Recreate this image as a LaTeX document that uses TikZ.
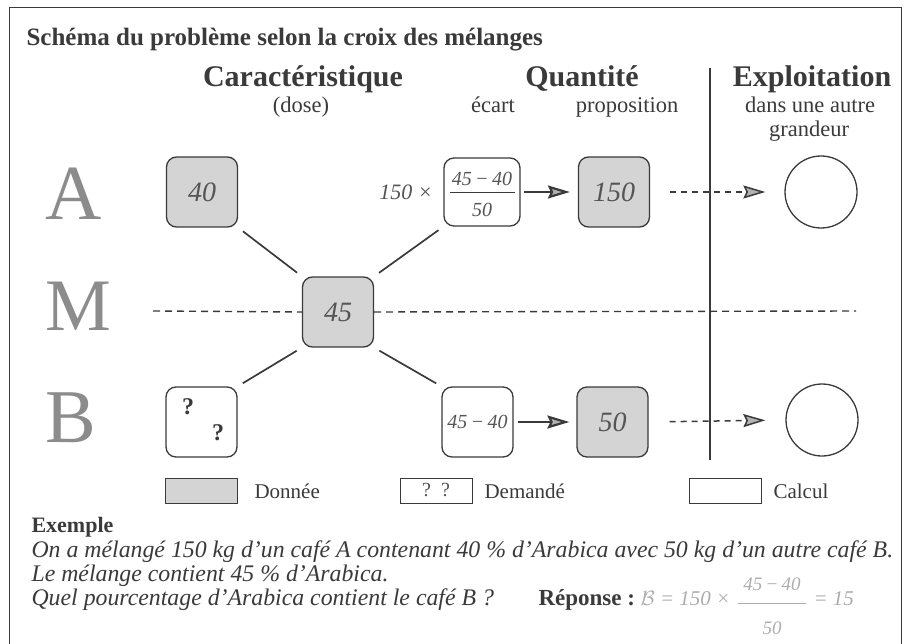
\documentclass[tikz,border=0pt]{standalone}
\usepackage{fontspec}
\setmainfont{Liberation Serif}
\usetikzlibrary{arrows.meta}
\definecolor{boxfill}{HTML}{D4D4D4}
\definecolor{ink}{HTML}{3A3A3A}
\definecolor{numink}{HTML}{555555}
\definecolor{letterg}{HTML}{8C8C8C}
\definecolor{faint}{HTML}{ADADAD}
\newcommand{\fsz}[1]{\fontsize{#1}{#1}\selectfont}
\begin{document}
\begin{tikzpicture}[x=1pt,y=-1pt,
  rbox/.style={draw=ink, line width=1.3pt, rounded corners=10pt, minimum width=71pt, minimum height=70pt, inner sep=0pt},
  gbox/.style={rbox, fill=boxfill},
  wbox/.style={rbox, fill=white},
  num/.style={font=\fsz{28}\itshape, text=numink},
  small/.style={font=\fsz{20}\itshape, text=numink},
  link/.style={draw=ink, line width=1.7pt, shorten >=6pt, shorten <=6pt},
  mline/.style={draw=ink, line width=1.4pt, dash pattern=on 7pt off 5pt},
  sarrow/.style={draw=ink, line width=2.2pt, -{Stealth[length=22pt,width=13pt,inset=3pt,fill=gray!60]}},
  darrow/.style={draw=ink, line width=1.5pt, dash pattern=on 6pt off 5pt, -{Stealth[length=22pt,width=13pt,inset=3pt,fill=gray!60]}},
  lbox/.style={draw=ink, line width=0.8pt, minimum width=72pt, minimum height=25pt, inner sep=0pt},
  ltext/.style={anchor=west, font=\fsz{21}, text=ink},
  head/.style={anchor=base, font=\fsz{30}\bfseries, text=ink},
  sub/.style={anchor=base, font=\fsz{22.5}, text=ink},
  rowl/.style={anchor=base west, text=letterg},
  circ/.style={draw=ink, line width=1.3pt, circle, minimum size=72pt, inner sep=0pt}
]
\useasboundingbox (0,0) rectangle (904,644);
% frame
\draw[ink, line width=1pt] (9,644) -- (9,8) -- (901,8) -- (901,644);

% title and headers
\node[anchor=base west, font=\fsz{25}\bfseries, text=ink] (title) at (23,46) {Schéma du problème selon la croix des mélanges};
\node[head] (hcar) at (303,87) {Caractéristique};
\node[head] (hqua) at (582,87) {Quantité};
\node[head] (hexp) at (812,87) {Exploitation};
\node[sub] (sdose) at (301,113) {(dose)};
\node[sub] (secart) at (493,113) {écart};
\node[sub] (sprop) at (627,113) {proposition};
\node[sub] (sdans) at (810,113) {dans une autre};
\node[sub] (sgrand) at (809,137) {grandeur};

% vertical separator
\coordinate (vtop) at (710,68);
\coordinate (vbot) at (710,460);
\draw[ink, line width=1.6pt] (vtop) -- (vbot);

% row letters
\node[rowl, font=\fsz{78}] (rA) at (42,220) {A};
\node[rowl, font=\fsz{74}] (rM) at (42,330) {M};
\node[rowl, font=\fsz{76}] (rB) at (42,442) {B};

% boxes
\node[gbox, num] (b40) at (202,192) {40};
\node[gbox, num] (b45) at (338,312) {45};
\node[wbox] (bq) at (201.5,422) {};
\node[font=\fsz{24}\bfseries, text=ink] (q1) at (188,407) {?};
\node[font=\fsz{24}\bfseries, text=ink] (q2) at (218,433) {?};
\node[wbox, minimum width=76pt, minimum height=68pt] (bfrac) at (482,192) {};
\node[small] (fnum) at (482,179) {45\,−\,40};
\node[small] (fden) at (482,210) {50};
\draw[ink, line width=1pt] ([xshift=-32pt,yshift=-1pt]bfrac.center) -- ([xshift=33pt,yshift=-1pt]bfrac.center);
\node[anchor=east, font=\fsz{22}\itshape, text=numink] (pre) at ([xshift=-7pt]bfrac.west) {150 ×};
\node[gbox, num] (b150) at (614,192) {150};
\node[wbox, small] (bdiff) at (477.5,422) {45\,−\,40};
\node[gbox, num] (b50) at (612.5,422) {50};
\node[circ] (cA) at (821,192) {};
\node[circ] (cB) at (822,420) {};

% links of the cross
\draw[link] (b40.south east) -- (b45.north west);
\draw[link] (b45.north east) -- (bfrac.south west);
\draw[link] (b45.south west) -- (bq.north east);
\draw[link] (b45.south east) -- (bdiff.north west);

% M dashed line
\coordinate (mleft) at (153,311);
\coordinate (mright) at (856,311);
\draw[mline] (mleft) -- (b45.west);
\draw[mline] (b45.east) -- (mright);

% arrows
\draw[sarrow, shorten <=3pt, shorten >=8pt] (bfrac.east) -- (b150.west);
\draw[sarrow, shorten <=4pt, shorten >=7pt] (bdiff.east) -- (b50.west);
\draw[darrow, shorten <=20pt, shorten >=19pt] (b150.east) -- (cA.west);
\draw[darrow, shorten <=21pt, shorten >=20pt] (b50.east) -- (cB.west);

% legend
\node[lbox, fill=boxfill] (lg1) at (201,490.5) {};
\node[ltext] (lt1) at (251,491) {Donnée};
\node[lbox, fill=white, font=\fsz{20}, text=numink] (lg2) at (436,490.5) {?\ \ ?};
\node[ltext] (lt2) at (481,491) {Demandé};
\node[lbox, fill=white] (lg3) at (725.5,490.5) {};
\node[ltext] (lt3) at (770,491) {Calcul};

% example
\node[anchor=base west, font=\fsz{22}\bfseries, text=ink] (ex) at (28,532) {Exemple};
\node[anchor=base west, font=\fsz{23.8}\itshape, text=ink] (l1) at (28,557) {On a mélangé 150 kg d’un café A contenant 40 \% d’Arabica avec 50 kg d’un autre café B.};
\node[anchor=base west, font=\fsz{23.8}\itshape, text=ink] (l2) at (28,581) {Le mélange contient 45 \% d’Arabica.};
\node[anchor=base west, font=\fsz{23.8}\itshape, text=ink] (l3) at (28,605) {Quel pourcentage d’Arabica contient le café B ?};
\node[anchor=base west, font=\fsz{23}\bfseries, text=ink] (rep) at (535,605) {Réponse :};
\node[anchor=base west, font=\fsz{21}\itshape, text=faint] (ans1) at (637,605) {$\mathcal{B}$ = 150 ×};
\node[font=\fsz{19}\itshape, text=faint] (anum) at (772,584) {45\,−\,40};
\node[font=\fsz{19}\itshape, text=faint] (aden) at (772,628) {50};
\draw[faint, line width=0.9pt] (738,603) -- (806,603);
\node[anchor=base west, font=\fsz{21}\itshape, text=faint] (ans2) at (810,605) {= 15};
\end{tikzpicture}
\end{document}
